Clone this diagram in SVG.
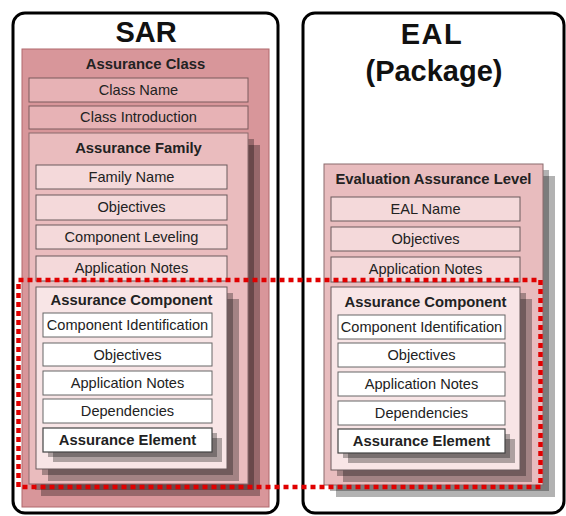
<svg xmlns="http://www.w3.org/2000/svg" width="566" height="516" viewBox="0 0 566 516">
<style>
text{font-family:"Liberation Sans",Arial,sans-serif;fill:#222;text-anchor:middle}
.t{font-size:14.6px}
.b{font-size:14.8px;font-weight:bold}
.title{font-size:29px;font-weight:bold;fill:#111}
.frame{fill:#fff;stroke:#000;stroke-width:3}
.cls{fill:#d8969a;stroke:#b0686d;stroke-width:1}
.fam{fill:#eabcbe;stroke:#8a6a6c;stroke-width:1}
.eal{fill:#e8bcbe;stroke:#8a6a6c;stroke-width:1}
.comp{fill:#f8e5e6;stroke:#6a5a5c;stroke-width:1}
.p1{fill:#e7b2b5;stroke:#7a5a5c;stroke-width:1}
.p2{fill:#f4d9da;stroke:#6a5a5c;stroke-width:1}
.w{fill:#fff;stroke:#666;stroke-width:1}
.we{fill:#fff;stroke:#444;stroke-width:1.2}
.sh{fill:#000;opacity:.3}
.red{fill:none;stroke:#e00000;stroke-width:4.5;stroke-dasharray:5 4}
</style>

<g id="sar-panel">
<rect class="frame" x="13" y="13" width="265" height="500" rx="12"/>
<text class="title" x="146" y="42">SAR</text>
</g>

<g id="eal-panel">
<rect class="frame" x="303" y="13" width="261" height="500" rx="12"/>
<text class="title" x="432" y="44" letter-spacing="1.5">EAL</text>
<text class="title" x="434" y="81">(Package)</text>
</g>

<g id="assurance-class">
<rect class="cls" x="22" y="49" width="247" height="458"/>
<text class="b" x="145.5" y="69">Assurance Class</text>
</g>
<g id="class-name">
<rect class="p1" x="29" y="78" width="219" height="24"/>
<text class="t" x="138.5" y="95">Class Name</text>
</g>
<g id="class-introduction">
<rect class="p1" x="29" y="106" width="219" height="23"/>
<text class="t" x="138.5" y="122">Class Introduction</text>
</g>

<g id="assurance-family">
<rect class="sh" x="41" y="145" width="219" height="351"/>
<rect class="sh" x="35" y="139" width="219" height="351"/>
<rect class="fam" x="29" y="133" width="219" height="351"/>
<text class="b" x="138.5" y="153">Assurance Family</text>
</g>
<g id="family-name">
<rect class="p2" x="36" y="165" width="191" height="24"/>
<text class="t" x="131.5" y="182">Family Name</text>
</g>
<g id="family-objectives">
<rect class="p2" x="36" y="195" width="191" height="25"/>
<text class="t" x="131.5" y="212">Objectives</text>
</g>
<g id="component-leveling">
<rect class="p2" x="36" y="225" width="191" height="24"/>
<text class="t" x="131.5" y="242">Component Leveling</text>
</g>
<g id="family-application-notes">
<rect class="p2" x="36" y="256" width="191" height="25"/>
<text class="t" x="131.5" y="273">Application Notes</text>
</g>

<g id="sar-assurance-component">
<rect class="sh" x="48" y="299" width="191" height="182"/>
<rect class="sh" x="42" y="293" width="191" height="182"/>
<rect class="comp" x="36" y="287" width="191" height="182"/>
<text class="b" x="131.5" y="305">Assurance Component</text>
</g>
<g id="sar-component-identification">
<rect class="w" x="43" y="313" width="169" height="24"/>
<text class="t" x="127.5" y="330">Component Identification</text>
</g>
<g id="sar-component-objectives">
<rect class="w" x="43" y="343" width="169" height="23"/>
<text class="t" x="127.5" y="360">Objectives</text>
</g>
<g id="sar-component-application-notes">
<rect class="w" x="43" y="371" width="169" height="24"/>
<text class="t" x="127.5" y="388">Application Notes</text>
</g>
<g id="sar-dependencies">
<rect class="w" x="43" y="399" width="169" height="24"/>
<text class="t" x="127.5" y="416">Dependencies</text>
</g>
<g id="sar-assurance-element">
<rect class="sh" x="53" y="438" width="169" height="24"/>
<rect class="sh" x="48" y="433" width="169" height="24"/>
<rect class="we" x="43" y="428" width="169" height="24"/>
<text class="b" x="127.5" y="445">Assurance Element</text>
</g>

<g id="evaluation-assurance-level">
<rect class="sh" x="336" y="176" width="219" height="321"/>
<rect class="sh" x="330" y="170" width="219" height="321"/>
<rect class="eal" x="324" y="164" width="219" height="321"/>
<text class="b" x="433.5" y="184">Evaluation Assurance Level</text>
</g>
<g id="eal-name">
<rect class="p2" x="331" y="197" width="189" height="24"/>
<text class="t" x="425.5" y="214">EAL Name</text>
</g>
<g id="eal-objectives">
<rect class="p2" x="331" y="227" width="189" height="24"/>
<text class="t" x="425.5" y="244">Objectives</text>
</g>
<g id="eal-application-notes">
<rect class="p2" x="331" y="257" width="189" height="25"/>
<text class="t" x="425.5" y="274">Application Notes</text>
</g>

<g id="eal-assurance-component">
<rect class="sh" x="343" y="299" width="189" height="183"/>
<rect class="sh" x="337" y="293" width="189" height="183"/>
<rect class="comp" x="331" y="287" width="189" height="183"/>
<text class="b" x="425.5" y="307">Assurance Component</text>
</g>
<g id="eal-component-identification">
<rect class="w" x="338" y="315" width="167" height="24"/>
<text class="t" x="421.5" y="332">Component Identification</text>
</g>
<g id="eal-component-objectives">
<rect class="w" x="338" y="343" width="167" height="24"/>
<text class="t" x="421.5" y="360">Objectives</text>
</g>
<g id="eal-component-application-notes">
<rect class="w" x="338" y="372" width="167" height="24"/>
<text class="t" x="421.5" y="389">Application Notes</text>
</g>
<g id="eal-dependencies">
<rect class="w" x="338" y="401" width="167" height="24"/>
<text class="t" x="421.5" y="418">Dependencies</text>
</g>
<g id="eal-assurance-element">
<rect class="sh" x="348" y="439" width="167" height="24"/>
<rect class="sh" x="343" y="434" width="167" height="24"/>
<rect class="we" x="338" y="429" width="167" height="24"/>
<text class="b" x="421.5" y="446">Assurance Element</text>
</g>

<g id="connectors">
<rect class="red" x="18.5" y="280" width="522" height="207"/>
</g>
</svg>
